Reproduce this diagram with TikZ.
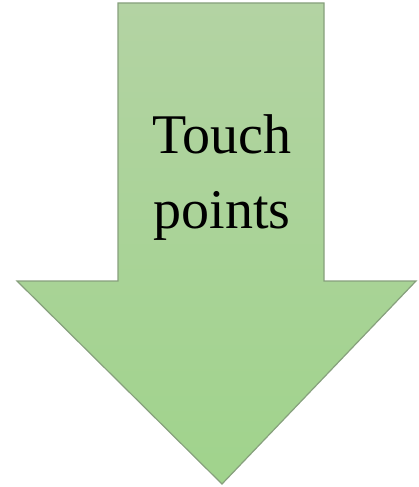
\documentclass[tikz,border=0pt]{standalone}
\usepackage{fontspec}
\setmainfont{Liberation Serif}
\usepackage{tikz}
\usetikzlibrary{positioning, calc}

\definecolor{arrowtop}{RGB}{179,211,163}
\definecolor{arrowbot}{RGB}{160,211,140}
\definecolor{arrowline}{RGB}{135,160,125}

\begin{document}
\begin{tikzpicture}[x=1pt, y=-1pt,
    bigarrow/.style={draw=arrowline, line width=1.2pt, line join=miter, top color=arrowtop, bottom color=arrowbot},
    label/.style={font=\fontsize{56}{75}\selectfont, align=center, text=black}
]
    \useasboundingbox (0,0) rectangle (418,487);
    % arrow outline
    \coordinate (tl) at (118,3);
    \coordinate (tr) at (324,3);
    \coordinate (sr) at (324,281);
    \coordinate (hr) at (416,281);
    \coordinate (tip) at (222,484);
    \coordinate (hl) at (17,281);
    \coordinate (sl) at (118,281);
    \draw[bigarrow] (tl) -- (tr) -- (sr) -- (hr) -- (tip) -- (hl) -- (sl) -- cycle;
    \node[label] (txt) at (222,178) {Touch\\points};
\end{tikzpicture}
\end{document}
